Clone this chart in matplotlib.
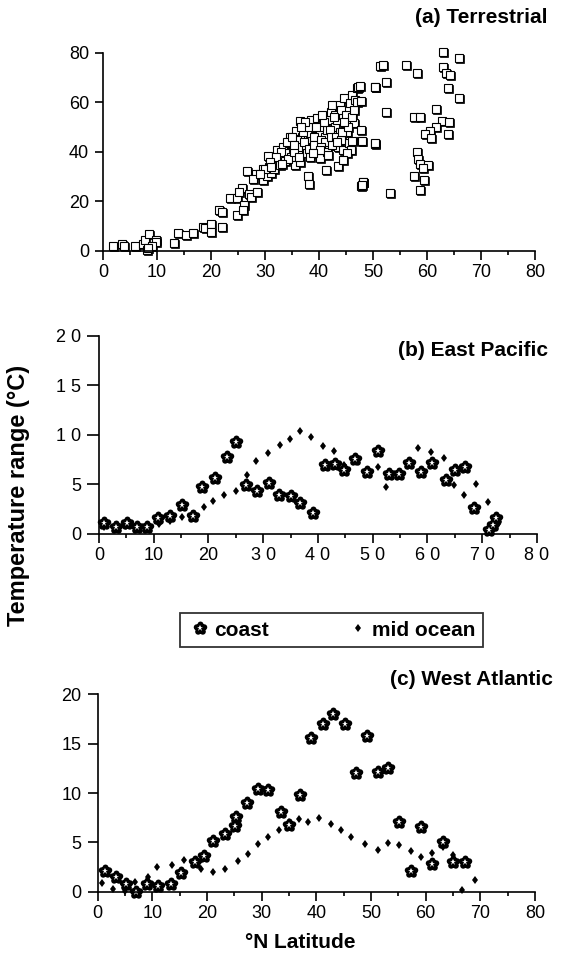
import numpy as np
import matplotlib
matplotlib.use("Agg")
import matplotlib.pyplot as plt
from matplotlib.path import Path
from matplotlib.lines import Line2D
from matplotlib.legend_handler import HandlerTuple
import matplotlib.transforms as mtransforms

plt.rcParams['font.family'] = ['Liberation Sans', 'DejaVu Sans']

# (a) Terrestrial: latitude vs temperature range
lat_terr = [1.9, 3.5, 3.8, 5.9, 7.5, 7.8, 8.6, 9.9, 9.9, 9.0, 8.1, 8.4, 13.1, 13.8, 15.4,
            16.6, 18.5, 18.8, 20.0, 20.0, 22.1, 21.5, 22.1, 23.5, 24.8, 24.8, 25.7, 25.1,
            26.2, 26.0, 27.1, 27.5, 28.6, 26.6, 28.3, 27.7, 29.6, 29.9, 29.6, 30.3, 31.2,
            30.5, 30.8, 31.4, 31.7, 32.2, 32.5, 32.8, 33.1, 33.4, 33.7, 34.0, 34.5, 34.6,
            34.9, 35.2, 35.5, 35.7, 35.8, 36.2, 36.5, 36.5, 36.8, 37.1, 37.4, 37.7, 38.0,
            38.3, 38.6, 38.9, 39.3, 39.6, 39.9, 40.1, 40.2, 40.5, 40.8, 41.1, 41.4, 41.7,
            42.0, 42.3, 42.5, 42.6, 43.0, 43.3, 43.6, 43.8, 43.9, 44.2, 44.5, 44.7, 44.8,
            45.1, 45.4, 45.6, 45.7, 46.0, 46.2, 46.4, 46.7, 47.0, 46.2, 45.1,
            36.0, 37.0, 38.0, 39.0, 40.0, 41.0, 42.0, 43.0, 44.0, 45.0, 34.0, 35.0, 36.1,
            37.2, 38.1, 39.1, 40.3, 41.2, 42.2, 43.1, 44.1, 45.2, 33.0, 32.0, 31.0, 34.2,
            35.3, 36.3, 38.4, 40.4, 41.5, 42.4, 43.4, 44.3, 45.3, 46.1, 46.5, 47.1, 44.6,
            42.8, 40.6, 39.4, 37.5, 36.6, 35.4, 33.2, 30.0, 29.0, 31.1, 40.2, 41.7, 38.9,
            47.8, 48.1, 37.9, 38.2, 41.3, 43.5, 44.4, 50.3, 50.3, 47.8, 47.8, 47.8, 47.3,
            47.5, 51.3, 63.0, 65.9, 51.8, 56.1, 58.2, 63.0, 63.6, 64.2, 50.4, 52.4, 63.8,
            65.9, 52.4, 61.6, 57.5, 58.7, 62.7, 64.1, 61.6, 60.5, 59.6, 60.8, 63.8, 50.4,
            47.9, 58.2, 58.4, 58.7, 60.1, 59.2, 57.5, 59.5, 58.7, 53.2, 48.1, 48.0]
range_terr = [2.0, 2.7, 2.0, 2.0, 2.8, 4.4, 6.7, 4.6, 3.7, 2.0, 0.4, 1.2, 3.2, 7.2, 6.5,
              7.2, 9.8, 9.1, 10.9, 7.6, 9.8, 16.5, 15.6, 21.3, 21.3, 14.6, 25.3, 23.7,
              18.4, 16.5, 23.0, 21.7, 23.7, 32.3, 31.0, 29.0, 33.0, 30.4, 28.6, 30.3, 31.3,
              38.4, 34.0, 35.7, 33.0, 40.8, 37.4, 34.7, 38.8, 42.1, 36.5, 39.7, 43.5, 46.2,
              38.1, 41.5, 34.7, 48.6, 44.1, 40.1, 52.5, 36.1, 46.2, 42.8, 50.2, 39.4, 44.8,
              47.5, 52.9, 42.1, 49.5, 53.6, 44.8, 37.4, 47.5, 51.6, 53.6, 46.2, 48.9, 42.8,
              52.9, 56.3, 59.0, 47.5, 50.2, 52.9, 42.1, 59.0, 48.2, 55.0, 40.8, 61.7, 51.6,
              57.0, 53.0, 43.5, 59.7, 40.8, 63.0, 51.9, 61.0, 65.7, 44.6, 39.4,
              45.0, 48.0, 50.0, 46.0, 50.0, 52.0, 49.0, 55.0, 57.0, 55.0, 44.0, 46.0, 42.0,
              44.0, 41.0, 43.0, 45.0, 44.0, 46.0, 46.0, 45.0, 48.0, 40.0, 38.0, 36.0, 37.0,
              40.0, 38.0, 38.0, 42.0, 40.0, 43.0, 44.0, 48.0, 50.0, 54.0, 57.0, 60.0, 52.0,
              54.0, 55.0, 50.0, 52.0, 50.0, 43.0, 35.0, 33.0, 31.0, 34.0, 40.8, 38.8, 39.4,
              26.4, 27.7, 30.1, 27.0, 32.8, 34.2, 36.6, 66.2, 43.3, 44.6, 48.9, 60.4, 66.2,
              66.5, 74.7, 80.3, 78.1, 75.1, 75.1, 71.8, 74.2, 71.8, 71.1, 66.1, 68.4, 66.0,
              62.0, 56.3, 57.2, 54.0, 54.3, 52.6, 52.2, 50.2, 48.6, 47.1, 45.5, 47.1, 43.5,
              44.6, 40.1, 37.0, 35.1, 34.7, 33.7, 30.3, 28.7, 24.6, 23.3, 28.0, 26.6]

# (b) East Pacific
lat_ep_coast = [0.9, 3.1, 5.1, 7.0, 8.7, 10.8, 13.0, 15.1, 17.2, 18.9, 21.2, 23.3, 25.1,
                26.8, 28.8, 31.1, 32.8, 35.0, 36.8, 39.0, 41.3, 43.1, 44.7, 46.8, 48.9,
                50.9, 53.0, 54.8, 56.7, 58.9, 60.9, 63.4, 65.0, 66.8, 68.5, 71.3, 71.9, 72.6]
range_ep_coast = [1.1, 0.75, 1.1, 0.75, 0.75, 1.65, 1.85, 2.9, 1.8, 4.7, 5.7, 7.8, 9.3,
                  4.95, 4.3, 5.1, 3.9, 3.8, 3.1, 2.1, 7.0, 7.1, 6.5, 7.6, 6.3,
                  8.4, 6.05, 6.05, 7.15, 6.3, 7.15, 5.45, 6.45, 6.8, 2.65, 0.45, 0.9, 1.65]
lat_ep_mid = [0.9, 3.0, 5.0, 7.0, 9.0, 11.0, 13.0, 15.1, 17.0, 19.1, 20.9, 22.8, 25.0, 27.1,
              28.7, 30.9, 33.1, 34.9, 36.7, 38.7, 40.9, 42.9, 44.8, 46.9, 48.9, 51.0, 52.5,
              54.7, 56.5, 58.3, 60.6, 63.0, 64.8, 66.7, 68.8, 71.1, 72.8]
range_ep_mid = [0.7, 0.9, 0.8, 0.9, 0.8, 1.0, 1.3, 1.7, 2.0, 2.75, 3.35, 3.95, 4.3, 5.95,
                7.4, 8.15, 9.0, 9.6, 10.45, 9.75, 8.9, 8.4, 7.0, 7.3, 6.5, 6.8, 4.7,
                5.9, 6.9, 8.7, 8.3, 7.7, 4.95, 3.95, 5.0, 3.25, 1.0]

# (c) West Atlantic
lat_wa_coast = [1.4, 3.4, 5.3, 7.0, 9.1, 11.1, 13.4, 15.2, 17.8, 19.5, 21.2, 23.3, 25.1,
                25.4, 27.3, 29.3, 31.2, 33.5, 35.1, 37.1, 39.0, 41.3, 43.1, 45.2, 47.3,
                49.2, 51.2, 53.2, 55.2, 57.3, 59.1, 61.2, 63.2, 65.0, 67.2]
range_wa_coast = [2.1, 1.5, 0.8, 0.0, 0.8, 0.6, 0.8, 1.9, 3.0, 3.65, 5.1, 5.8, 6.65,
                  7.6, 8.95, 10.4, 10.3, 8.1, 6.8, 9.8, 15.6, 16.95, 18.05, 16.95, 12.0,
                  15.8, 12.15, 12.55, 7.1, 2.1, 6.6, 2.8, 5.05, 3.05, 3.05]
lat_wa_mid = [0.8, 2.9, 5.0, 6.9, 9.3, 10.9, 13.6, 15.9, 18.9, 21.2, 23.4, 25.7, 27.6, 29.4,
              31.2, 33.1, 35.1, 36.9, 38.5, 40.5, 42.7, 44.5, 46.3, 49.0, 51.2, 53.2, 55.2,
              57.3, 59.1, 61.2, 63.2, 65.0, 66.7, 69.0]
range_wa_mid = [0.9, 0.25, 0.1, 1.0, 1.5, 2.55, 2.7, 3.2, 2.35, 1.95, 2.35, 3.1, 3.8, 4.85,
                5.55, 6.25, 7.1, 7.35, 7.1, 7.45, 6.85, 6.25, 5.55, 4.85, 4.2, 4.95, 4.75,
                4.1, 3.55, 3.95, 4.55, 3.7, 0.15, 1.2]

xticks = [0, 10, 20, 30, 40, 50, 60, 70, 80]
xlabels_b = ["0", "10", "20", "3 0", "4 0", "5 0", "6 0", "7 0", "8 0"]
yticks_b = [0, 5, 10, 15, 20]
ylabels_b = ["0", "5", "1 0", "1 5", "2 0"]

# flower marker for coast: five petals round a filled middle
petals = []
for k in range(5):
    a = np.pi / 2 + k * 2 * np.pi / 5
    petals.append(Path.circle((0.52 * np.cos(a), 0.52 * np.sin(a)), 0.4))
petals.append(Path.circle((0, 0), 0.55))
flower = Path.make_compound_path(*petals)

fig = plt.figure(figsize=(5.64, 9.63), dpi=100)
ax_a = fig.add_axes([0.1826, 0.7394, 0.766, 0.2056])
ax_b = fig.add_axes([0.1755, 0.4455, 0.7766, 0.2056])
ax_c = fig.add_axes([0.1729, 0.0740, 0.7757, 0.2050])


def style_axis(ax, ylen):
    for s in ['top', 'right']:
        ax.spines[s].set_visible(False)
    for s in ['left', 'bottom']:
        ax.spines[s].set_linewidth(1.2)
    ax.set_xlim(0, 80)
    ax.set_xticks(xticks)
    ax.set_xticks(np.arange(5, 80, 10), minor=True)
    ax.tick_params(axis='x', which='major', direction='out', length=6.5, width=1.2,
                   labelsize=13, pad=3)
    ax.tick_params(axis='x', which='minor', direction='out', length=3.2, width=1.2)
    ax.tick_params(axis='y', which='major', direction='out', length=ylen, width=1.2,
                   labelsize=13, pad=4)


# Panel (a)
shadow = mtransforms.offset_copy(ax_a.transData, fig=fig, x=1.0, y=-1.0, units='dots')
ax_a.plot(lat_terr, range_terr, 's', ms=6.3, mfc='k', mec='k', mew=0.5,
          transform=shadow, clip_on=False)
ax_a.plot(lat_terr, range_terr, 's', ms=6.3, mfc='white', mec='k', mew=0.8,
          clip_on=False)
style_axis(ax_a, 6)
ax_a.set_ylim(0, 80)
ax_a.set_yticks([0, 20, 40, 60, 80])


def coast_mid(ax, lat_c, rng_c, lat_m, rng_m):
    ax.plot(lat_m, rng_m, 'd', ms=4.5, color='k', mew=0, clip_on=False)
    ax.plot(lat_c, rng_c, ls='none', marker=flower, ms=10, color='k', mew=0,
            clip_on=False)
    ax.plot(lat_c, rng_c, '*', ms=5, color='white', mew=0, clip_on=False)


# Panel (b)
coast_mid(ax_b, lat_ep_coast, range_ep_coast, lat_ep_mid, range_ep_mid)
style_axis(ax_b, 9)
ax_b.set_ylim(0, 20)
ax_b.set_yticks(yticks_b)
ax_b.set_yticklabels(ylabels_b)
ax_b.set_xticklabels(xlabels_b)

# Panel (c)
coast_mid(ax_c, lat_wa_coast, range_wa_coast, lat_wa_mid, range_wa_mid)
style_axis(ax_c, 7.5)
ax_c.set_ylim(0, 20)
ax_c.set_yticks([0, 5, 10, 15, 20])

# titles and labels
fig.text(0.970, 0.982, "(a) Terrestrial", ha='right', va='center',
         fontsize=15, fontweight='bold')
fig.text(0.972, 0.6365, "(b) East Pacific", ha='right', va='center',
         fontsize=15, fontweight='bold')
fig.text(0.980, 0.294, "(c) West Atlantic", ha='right', va='center',
         fontsize=15, fontweight='bold')
fig.text(0.032, 0.486, "Temperature range (°C)", rotation=90, ha='center',
         va='center', fontsize=17, fontweight='bold')
fig.text(0.532, 0.021, "°N Latitude", ha='center', va='center',
         fontsize=15, fontweight='bold')

# legend
h_flower = Line2D([], [], ls='none', marker=flower, ms=10, color='k', mew=0)
h_star = Line2D([], [], ls='none', marker='*', ms=5, color='white', mew=0)
h_mid = Line2D([], [], ls='none', marker='d', ms=4.5, color='k', mew=0)
leg = fig.legend([(h_flower, h_star), h_mid], ["coast", "mid ocean"],
                 handler_map={tuple: HandlerTuple(ndivide=1)},
                 bbox_to_anchor=(0.319, 0.328, 0.537, 0.0353), loc='center',
                 mode='expand', ncol=2, fancybox=False, handlelength=1.2,
                 handletextpad=0.1, borderaxespad=0, borderpad=0.35,
                 prop={'size': 15, 'weight': 'bold'})
leg.get_frame().set_edgecolor('k')
leg.get_frame().set_linewidth(1.3)

fig.savefig("out.png", dpi=100)
